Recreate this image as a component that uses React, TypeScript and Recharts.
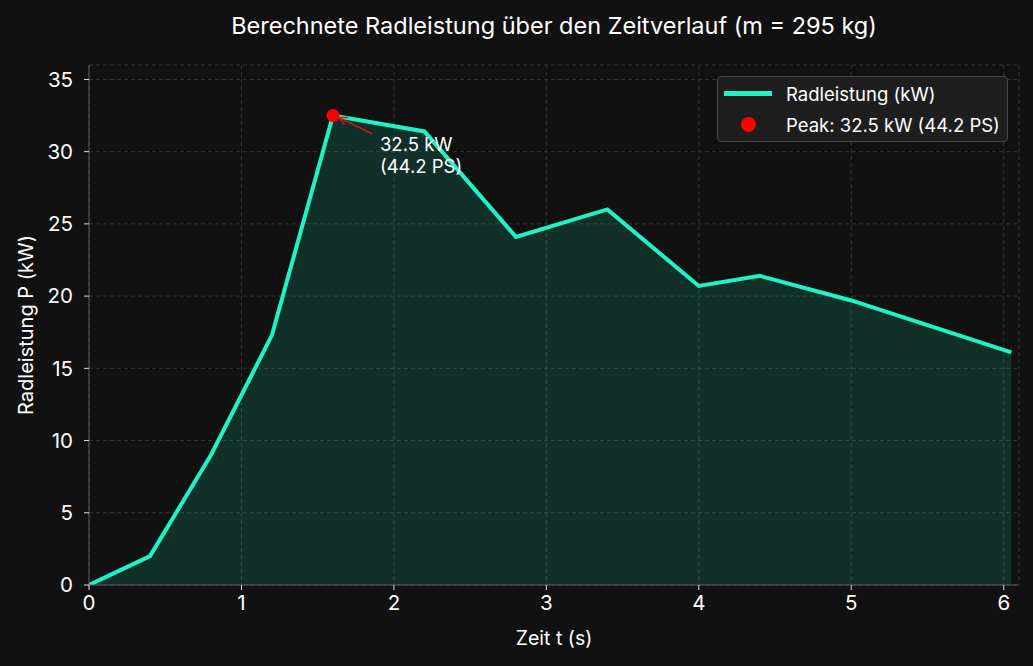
import { ComposedChart, Area, Scatter, XAxis, YAxis, CartesianGrid, ReferenceDot } from 'recharts';

const times = [0, 0.4, 0.8, 1.2, 1.6, 2.2, 2.8, 3.4, 4.0, 4.4, 5.0, 6.05];
const powerKw = [0, 2.0, 9.0, 17.3, 32.5, 31.4, 24.1, 26.0, 20.7, 21.4, 19.7, 16.1];
const xTicks = [0, 1, 2, 3, 4, 5, 6];
const yTicks = [0, 5, 10, 15, 20, 25, 30, 35];
const peak = { t: 1.6, p: 32.5, ps: 44.2 };

const BG = '#111111';
const LINE = '#1cf4c6';
const FONT = 'Inter, "Open Sans", sans-serif';

const data = times.map((t, i) => ({ t, p: powerKw[i] }));
const peakData = [{ t: peak.t, p: peak.p }];

function PeakAnnotation(props: any) {
  const { cx, cy } = props;
  return (
    <g>
      <defs>
        <marker id="arrowHead" markerWidth="10" markerHeight="10" refX="9" refY="5" orient="auto" markerUnits="userSpaceOnUse">
          <path d="M1,1 L9,5 L1,9" fill="none" stroke="#e01414" strokeWidth={1.5} />
        </marker>
      </defs>
      <line x1={cx + 39} y1={cy + 18} x2={cx + 6} y2={cy + 2} stroke="#e01414" strokeWidth={1.5} markerEnd="url(#arrowHead)" />
      <text x={cx + 47} y={cy + 35} fill="#ffffff" fontSize={18.5} fontFamily={FONT}>{`${peak.p} kW`}</text>
      <text x={cx + 47} y={cy + 57} fill="#ffffff" fontSize={18.5} fontFamily={FONT}>{`(${peak.ps} PS)`}</text>
    </g>
  );
}

function LegendBox() {
  return (
    <div
      style={{
        position: 'absolute',
        top: 76,
        left: 717,
        width: 289,
        background: '#1e1e1e',
        border: '1px solid #474747',
        borderRadius: 4,
        padding: '1px 0',
        fontFamily: FONT,
        fontSize: 18.5,
        color: '#ffffff',
      }}
    >
      <div style={{ display: 'flex', alignItems: 'center', height: 31 }}>
        <div style={{ width: 48, height: 5, background: LINE, marginLeft: 6, marginRight: 14 }} />
        <span>Radleistung (kW)</span>
      </div>
      <div style={{ display: 'flex', alignItems: 'center', height: 31 }}>
        <div style={{ width: 48, marginLeft: 6, marginRight: 14, display: 'flex', justifyContent: 'center' }}>
          <div style={{ width: 15, height: 15, borderRadius: 8, background: '#ff0000' }} />
        </div>
        <span>Peak: {peak.p} kW ({peak.ps} PS)</span>
      </div>
    </div>
  );
}

function YLabel(props: any) {
  const { viewBox } = props;
  const x = 26;
  const y = viewBox.y + viewBox.height / 2;
  return (
    <text x={x} y={y} transform={`rotate(-90 ${x} ${y})`} textAnchor="middle" dominantBaseline="central" fill="#ffffff" fontSize={20} fontFamily={FONT}>
      Radleistung P (kW)
    </text>
  );
}

function XLabel(props: any) {
  const { viewBox } = props;
  return (
    <text x={viewBox.x + viewBox.width / 2} y={645} textAnchor="middle" fill="#ffffff" fontSize={19.5} fontFamily={FONT}>
      Zeit t (s)
    </text>
  );
}

export default function App() {
  return (
    <div style={{ position: 'fixed', left: 0, top: 0, width: 1033, height: 666, background: BG }}>
      <div
        style={{
          position: 'absolute',
          top: 11,
          left: 89,
          width: 930,
          textAlign: 'center',
          color: '#ffffff',
          fontFamily: FONT,
          fontSize: 23.5,
          lineHeight: '30px',
        }}
      >
        Berechnete Radleistung über den Zeitverlauf (m = 295 kg)
      </div>
      <ComposedChart width={1033} height={666} data={data} margin={{ top: 65, right: 14, left: 0, bottom: 0 }}>
        <CartesianGrid xAxisId="main" yAxisId="main" stroke="#343434" strokeDasharray="4 3" vertical horizontal />
        <XAxis
          xAxisId="main"
          dataKey="t"
          type="number"
          domain={[0, 6.1]}
          ticks={xTicks}
          allowDataOverflow
          height={81}
          tickSize={5}
          tickMargin={5}
          stroke="#5a5a5a"
          tick={{ fill: '#ffffff', fontSize: 20.5, fontFamily: FONT }}
          tickLine={{ stroke: '#dddddd' }}
          label={<XLabel />}
        />
        <XAxis xAxisId="top" orientation="top" dataKey="t" type="number" domain={[0, 6.1]} height={0} tick={false} tickLine={false} stroke="#5a5a5a" />
        <YAxis
          yAxisId="main"
          type="number"
          domain={[0, 36]}
          ticks={yTicks}
          allowDataOverflow
          width={89}
          tickSize={5}
          tickMargin={11}
          stroke="#5a5a5a"
          tick={{ fill: '#ffffff', fontSize: 20.5, fontFamily: FONT }}
          tickLine={{ stroke: '#dddddd' }}
          label={<YLabel />}
        />
        <YAxis yAxisId="right" orientation="right" type="number" domain={[0, 36]} width={0} tick={false} tickLine={false} stroke="#5a5a5a" />
        <Area
          xAxisId="main"
          yAxisId="main"
          type="linear"
          dataKey="p"
          stroke={LINE}
          strokeWidth={4}
          fill={LINE}
          fillOpacity={0.14}
          dot={false}
          activeDot={false}
          isAnimationActive={false}
        />
        <Scatter xAxisId="main" yAxisId="main" data={peakData} dataKey="p" fill="#ff0000" isAnimationActive={false} shape={(p: any) => <circle cx={p.cx} cy={p.cy} r={6.5} fill="#ff0000" />} />
        <ReferenceDot xAxisId="main" yAxisId="main" x={peak.t} y={peak.p} r={0} ifOverflow="visible" shape={<PeakAnnotation />} />
      </ComposedChart>
      <LegendBox />
    </div>
  );
}
